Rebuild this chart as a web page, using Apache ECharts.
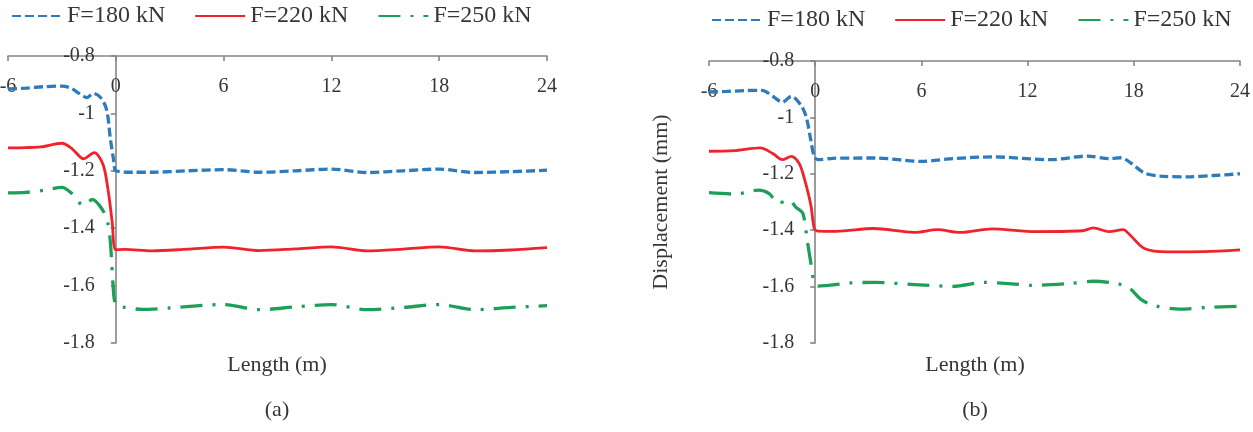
<!DOCTYPE html>
<html>
<head>
<meta charset="utf-8">
<script src="https://cdn.jsdelivr.net/npm/echarts@6/dist/echarts.min.js"></script>
<style>
  html, body { margin: 0; padding: 0; background: #fff; }
  #chart { width: 1253px; height: 432px; }
</style>
</head>
<body>
<div id="chart"></div>
<script>
// series names
const seriesNames = ['F=180 kN', 'F=220 kN', 'F=250 kN'];

// panel (a)
const xA180 = [-6, -5, -4, -3, -2.5, -2, -1.6, -1.25, -0.8, -0.5, -0.3, -0.1, 0, 1, 2, 4, 6, 8, 10, 12, 14, 16, 18, 20, 22, 24];
const yA180 = [-0.915, -0.912, -0.907, -0.905, -0.912, -0.932, -0.945, -0.93, -0.948, -0.99, -1.09, -1.17, -1.2, -1.205, -1.205, -1.2, -1.196, -1.205, -1.2, -1.194, -1.206, -1.2, -1.194, -1.206, -1.203, -1.198];

const xA220 = [-6, -5, -4.2, -3, -2.4, -1.8, -1.2, -0.7, -0.4, -0.2, 0, 0.5, 2, 4, 6, 8, 10, 12, 14, 16, 18, 20, 22, 24];
const yA220 = [-1.12, -1.119, -1.117, -1.104, -1.125, -1.158, -1.137, -1.18, -1.28, -1.38, -1.475, -1.474, -1.479, -1.473, -1.466, -1.478, -1.472, -1.465, -1.479, -1.473, -1.465, -1.479, -1.476, -1.468];

const xA250 = [-6, -5, -4, -3, -2.5, -1.8, -1.3, -0.75, -0.45, -0.3, -0.15, 0, 0.5, 1.5, 3, 6, 8, 10, 12, 14, 16, 18, 20, 22, 24];
const yA250 = [-1.277, -1.275, -1.268, -1.258, -1.276, -1.32, -1.3, -1.335, -1.38, -1.45, -1.6, -1.665, -1.676, -1.683, -1.678, -1.666, -1.684, -1.674, -1.666, -1.684, -1.676, -1.666, -1.684, -1.676, -1.67];

// panel (b)
const xB180 = [-6, -5, -4, -3, -2.4, -1.85, -1.35, -0.8, -0.5, -0.25, -0.05, 0.15, 1, 3.4, 6, 7.8, 10, 13.3, 15.4, 16.6, 17.3, 17.8, 18.6, 19.5, 21, 22.5, 24];
const yB180 = [-0.91, -0.908, -0.905, -0.904, -0.925, -0.946, -0.925, -0.957, -1.0, -1.08, -1.14, -1.15, -1.145, -1.144, -1.156, -1.146, -1.14, -1.15, -1.137, -1.146, -1.143, -1.16, -1.197, -1.208, -1.211, -1.206, -1.2];

const xB220 = [-6, -4.6, -3.1, -2.4, -1.85, -1.35, -0.9, -0.6, -0.25, -0.05, 0.15, 1.2, 3.3, 5.6, 6.9, 8.2, 10, 12.2, 15.1, 15.7, 16.6, 17.4, 17.8, 18.6, 19.9, 22, 24];
const yB220 = [-1.12, -1.118, -1.108, -1.128, -1.15, -1.138, -1.164, -1.22, -1.31, -1.394, -1.403, -1.404, -1.394, -1.408, -1.398, -1.408, -1.395, -1.405, -1.402, -1.392, -1.405, -1.398, -1.418, -1.465, -1.477, -1.476, -1.47];

const xB250 = [-6, -4.5, -3.2, -2.6, -2.1, -1.45, -1.1, -0.7, -0.45, -0.25, -0.05, 0.15, 2, 3.4, 5.6, 7.8, 9.5, 11.1, 12.2, 14.4, 15.7, 17.1, 17.8, 18.4, 19.2, 20.6, 22.1, 24];
const yB250 = [-1.267, -1.272, -1.258, -1.27, -1.303, -1.295, -1.318, -1.34, -1.436, -1.515, -1.588, -1.598, -1.587, -1.585, -1.593, -1.599, -1.585, -1.59, -1.596, -1.589, -1.581, -1.59, -1.608, -1.645, -1.668, -1.68, -1.674, -1.67];

// axis ticks
const xMin = -6, xMax = 24, xStep = 6;
const yMin = -1.8, yMax = -0.8, yStep = 0.2;

const FONT = "'Liberation Serif', 'DejaVu Serif', serif";
const TEXT = '#363636';
const AXIS = '#858585';

// grid boxes (px)
const grids = [
  {left: 8, top: 56, width: 539, height: 287},
  {left: 709, top: 61, width: 531, height: 282}
];

// line look per series
const looks = [
  {color: '#2b7bbd', width: 3.3, type: [9, 4]},
  {color: '#f0222a', width: 2.8, type: 'solid'},
  {color: '#1ca059', width: 3.3, type: [22, 10, 3, 10]}
];

const zip = (xs, ys) => xs.map((x, i) => [x, ys[i]]);

function makeSeries(idx, xs, ys, grid) {
  const lk = looks[idx];
  return {
    name: seriesNames[idx],
    type: 'line',
    xAxisIndex: grid,
    yAxisIndex: grid,
    data: zip(xs, ys),
    smooth: 0.3,
    symbol: 'none',
    animation: false,
    lineStyle: {color: lk.color, width: lk.width, type: lk.type},
    itemStyle: {color: lk.color}
  };
}

function makeX(grid) {
  return {
    type: 'value', gridIndex: grid, position: 'top',
    min: xMin, max: xMax, interval: xStep,
    axisLine: {show: true, onZero: false, lineStyle: {color: AXIS, width: 1.6}},
    axisTick: {show: true, inside: true, length: 5, lineStyle: {color: AXIS, width: 1.6}},
    axisLabel: {inside: true, margin: 21, color: TEXT, fontFamily: FONT, fontSize: 20},
    splitLine: {show: false}
  };
}

function makeY(grid, name) {
  // y axis sits on x = 0: shift it in from the grid's left edge
  const g = grids[grid];
  const zeroShift = g.width * (0 - xMin) / (xMax - xMin);
  return {
    type: 'value', gridIndex: grid, position: 'left',
    offset: -zeroShift,
    min: yMin, max: yMax, interval: yStep,
    name: name, nameLocation: 'middle', nameGap: 143,
    nameTextStyle: {color: TEXT, fontFamily: FONT, fontSize: 22},
    axisLine: {show: true, onZero: false, lineStyle: {color: AXIS, width: 1.6}},
    axisTick: {show: true, length: 5, lineStyle: {color: AXIS, width: 1.6}},
    axisLabel: {margin: 21, color: TEXT, fontFamily: FONT, fontSize: 20},
    splitLine: {show: false}
  };
}

function makeLegend(left, top) {
  return {
    left: left, top: top, padding: 0,
    itemWidth: 50, itemHeight: 14, itemGap: 29,
    itemStyle: {opacity: 0},
    data: seriesNames,
    textStyle: {color: TEXT, fontFamily: FONT, fontSize: 24}
  };
}

function label(text, x, y, size) {
  return {
    type: 'text', x: x, y: y,
    style: {
      text: text, fill: TEXT, font: size + 'px ' + FONT,
      textAlign: 'center', align: 'center',
      textVerticalAlign: 'middle', verticalAlign: 'middle'
    }
  };
}

const chart = echarts.init(document.getElementById('chart'));
chart.setOption({
  animation: false,
  backgroundColor: '#fff',
  legend: [makeLegend(11, 4), makeLegend(711, 8)],
  grid: grids.map(g => Object.assign({containLabel: false, outerBoundsMode: 'none'}, g)),
  xAxis: [makeX(0), makeX(1)],
  yAxis: [makeY(0, ''), makeY(1, 'Displacement (mm)')],
  series: [
    makeSeries(0, xA180, yA180, 0),
    makeSeries(1, xA220, yA220, 0),
    makeSeries(2, xA250, yA250, 0),
    makeSeries(0, xB180, yB180, 1),
    makeSeries(1, xB220, yB220, 1),
    makeSeries(2, xB250, yB250, 1)
  ],
  graphic: [
    label('Length (m)', 277, 365, 22),
    label('Length (m)', 975, 365, 22),
    label('(a)', 277, 410, 22),
    label('(b)', 975, 410, 22)
  ]
});
</script>
</body>
</html>
